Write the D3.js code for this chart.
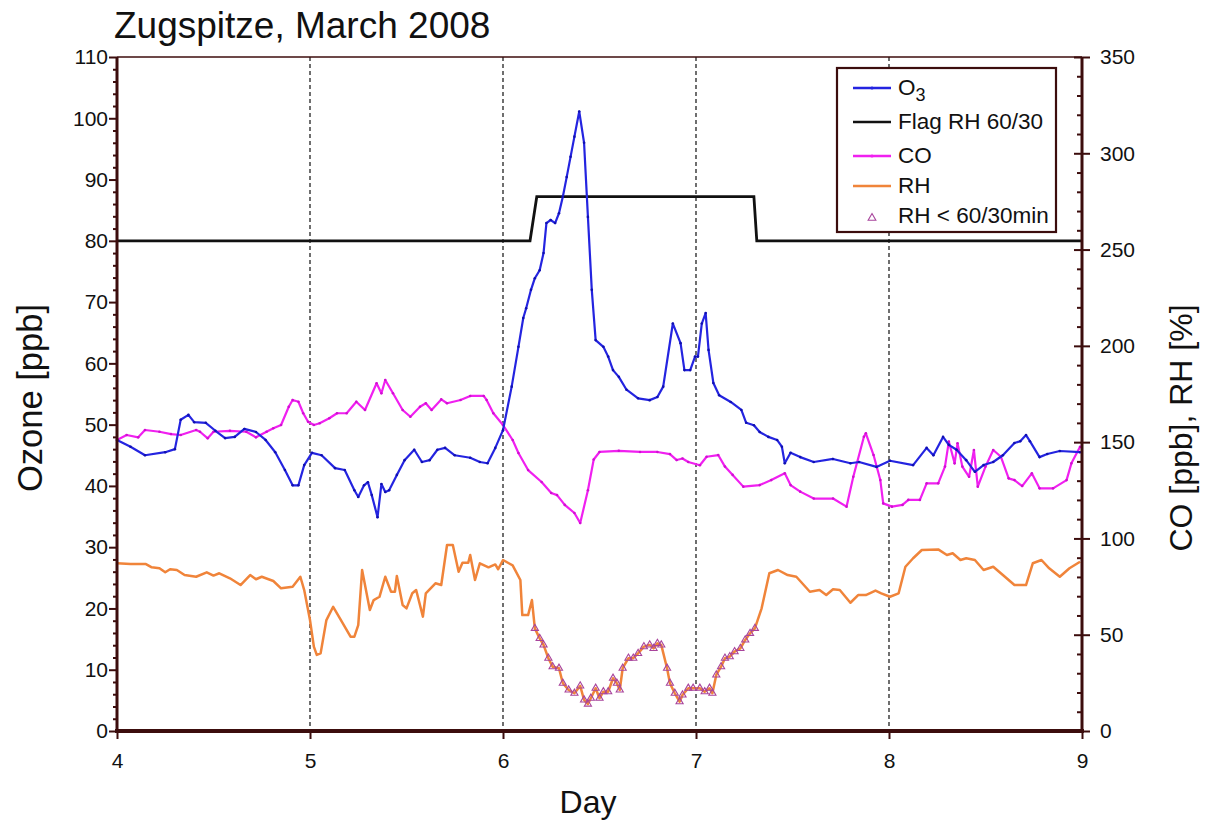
<!DOCTYPE html>
<html><head><meta charset="utf-8">
<script src="https://cdn.jsdelivr.net/npm/d3@7"></script>
<style>body{margin:0;background:#fff}svg{display:block}text{font-family:Arial,"Liberation Sans",sans-serif}</style>
</head><body><svg id="c" width="1205" height="825"></svg>
<script>
// ---- data ----
const title = "Zugspitze, March 2008";
const dayTicks = [4,5,6,7,8,9];
const gridDays = [5,6,7,8];
const ozoneTicks = [0,10,20,30,40,50,60,70,80,90,100,110];
const rightTicks = [0,50,100,150,200,250,300,350];
// Ozone [ppb] (left axis): [day, value]
const o3 = [[4.00,47.5],[4.07,46.4],[4.145,45.0],[4.25,45.5],[4.30,46.0],[4.33,50.8],[4.37,51.6],[4.40,50.4],[4.46,50.3],[4.51,49.0],[4.56,47.8],[4.61,48.0],[4.66,49.3],[4.72,48.8],[4.77,47.5],[4.82,45.5],[4.87,42.6],[4.91,40.1],[4.94,40.1],[4.97,43.4],[5.01,45.4],[5.06,45.0],[5.13,42.9],[5.18,42.6],[5.23,39.3],[5.25,38.2],[5.28,40.1],[5.30,40.6],[5.32,38.5],[5.35,34.9],[5.37,40.3],[5.39,39.0],[5.41,39.3],[5.45,41.8],[5.49,44.2],[5.54,45.9],[5.58,43.9],[5.62,44.2],[5.66,45.9],[5.70,46.2],[5.75,45.0],[5.83,44.6],[5.88,43.9],[5.92,43.7],[5.96,46.2],[6.00,49.1],[6.045,56.2],[6.08,62.7],[6.105,67.4],[6.12,69.0],[6.145,72.0],[6.165,73.9],[6.19,75.2],[6.21,78.0],[6.225,82.9],[6.247,83.4],[6.27,82.9],[6.29,84.5],[6.31,87.2],[6.33,90.4],[6.35,93.7],[6.37,97.0],[6.395,101.1],[6.42,96.0],[6.44,83.9],[6.46,72.0],[6.48,63.8],[6.52,62.7],[6.545,61.1],[6.57,58.9],[6.60,57.8],[6.64,55.7],[6.70,54.3],[6.76,54.0],[6.80,54.5],[6.83,56.2],[6.88,66.5],[6.92,63.3],[6.94,58.9],[6.97,58.9],[6.995,61.1],[7.01,61.1],[7.03,66.5],[7.05,68.2],[7.065,62.2],[7.09,56.8],[7.12,54.8],[7.18,53.7],[7.235,52.4],[7.26,50.3],[7.30,49.9],[7.33,48.8],[7.375,48.0],[7.42,47.5],[7.445,46.4],[7.46,43.7],[7.49,45.4],[7.54,44.7],[7.61,43.9],[7.71,44.4],[7.80,43.7],[7.845,43.9],[7.935,43.1],[8.005,44.1],[8.125,43.4],[8.195,46.2],[8.23,45.0],[8.28,48.0],[8.31,46.7],[8.35,45.9],[8.40,44.2],[8.445,42.3],[8.49,43.4],[8.54,43.9],[8.59,45.0],[8.65,47.0],[8.68,47.3],[8.71,48.3],[8.73,47.3],[8.78,44.7],[8.82,45.2],[8.885,45.7],[8.99,45.5]];
// Flag RH 60/30 (left-axis units)
const flag = [[4.00,80.0],[6.14,80.0],[6.175,87.2],[7.30,87.2],[7.315,80.0],[9.00,80.0]];
// CO [ppb] (right axis)
const co = [[4.00,151.1],[4.05,153.7],[4.11,152.5],[4.145,156.3],[4.22,155.4],[4.28,154.2],[4.33,153.7],[4.41,156.3],[4.43,155.4],[4.47,152.0],[4.50,155.4],[4.585,155.9],[4.67,155.4],[4.72,152.5],[4.775,155.4],[4.81,157.2],[4.85,158.9],[4.89,168.4],[4.91,171.9],[4.94,171.0],[4.965,165.0],[4.99,160.6],[5.02,158.9],[5.05,159.8],[5.10,162.4],[5.14,165.0],[5.19,165.0],[5.24,171.0],[5.285,166.7],[5.345,180.6],[5.37,175.4],[5.39,182.3],[5.43,175.4],[5.48,166.7],[5.52,163.2],[5.57,168.4],[5.60,170.2],[5.63,166.7],[5.68,172.2],[5.71,170.2],[5.78,171.9],[5.83,174.0],[5.90,174.0],[5.915,171.9],[5.95,165.0],[6.00,158.9],[6.05,151.1],[6.08,144.4],[6.13,135.5],[6.20,129.3],[6.25,123.6],[6.28,122.5],[6.32,117.4],[6.37,113.2],[6.40,108.0],[6.44,125.0],[6.47,141.0],[6.50,144.9],[6.60,145.5],[6.71,144.9],[6.80,144.9],[6.865,143.8],[6.90,140.7],[6.93,141.5],[6.96,139.7],[7.02,138.0],[7.055,142.4],[7.115,143.3],[7.15,137.3],[7.19,133.0],[7.245,126.9],[7.33,127.7],[7.39,130.3],[7.46,133.8],[7.49,127.7],[7.54,124.3],[7.61,120.7],[7.71,120.7],[7.78,116.5],[7.815,132.0],[7.87,152.8],[7.88,154.6],[7.92,143.3],[7.955,130.3],[7.97,118.2],[8.015,116.5],[8.07,117.4],[8.10,120.0],[8.16,120.0],[8.195,128.6],[8.255,128.6],[8.29,137.3],[8.31,150.3],[8.34,139.0],[8.355,149.4],[8.38,137.3],[8.415,132.0],[8.44,145.9],[8.46,126.9],[8.50,137.3],[8.54,145.9],[8.58,142.4],[8.62,131.2],[8.65,130.3],[8.69,127.2],[8.74,133.8],[8.78,126.0],[8.85,126.0],[8.92,130.3],[8.945,139.0],[8.99,147.6]];
// RH [%] (right axis)
const rh = [[4.00,87.1],[4.07,86.7],[4.15,86.7],[4.18,85.0],[4.22,84.5],[4.25,82.4],[4.275,84.0],[4.31,83.6],[4.35,81.0],[4.41,80.1],[4.465,82.4],[4.50,80.7],[4.53,81.9],[4.585,79.3],[4.64,75.8],[4.69,81.0],[4.72,78.8],[4.75,80.1],[4.81,77.9],[4.85,74.1],[4.91,74.9],[4.95,80.1],[4.97,73.2],[5.00,57.6],[5.02,43.8],[5.035,39.5],[5.055,40.3],[5.085,57.6],[5.12,64.5],[5.155,58.5],[5.21,49.0],[5.23,49.0],[5.25,55.0],[5.27,83.6],[5.31,62.8],[5.33,68.0],[5.36,69.7],[5.39,80.1],[5.42,72.3],[5.44,72.3],[5.45,80.5],[5.48,65.4],[5.50,63.7],[5.53,71.5],[5.55,73.2],[5.585,59.4],[5.60,71.5],[5.65,76.7],[5.68,75.8],[5.71,96.6],[5.74,96.6],[5.77,82.7],[5.79,87.4],[5.82,87.4],[5.83,91.4],[5.855,78.4],[5.88,87.1],[5.925,85.0],[5.96,86.5],[5.975,84.0],[6.00,88.8],[6.03,87.1],[6.05,86.0],[6.09,78.4],[6.10,60.2],[6.13,60.2],[6.15,68.0],[6.165,53.3],[6.19,48.1],[6.21,44.7],[6.235,37.8],[6.257,33.4],[6.29,32.6],[6.31,24.8],[6.34,21.3],[6.37,19.6],[6.40,23.4],[6.42,16.1],[6.44,14.0],[6.455,17.0],[6.48,22.2],[6.50,17.0],[6.52,20.4],[6.545,20.4],[6.57,27.4],[6.59,24.8],[6.605,21.3],[6.62,32.6],[6.65,37.8],[6.675,37.8],[6.70,40.3],[6.73,43.8],[6.76,44.7],[6.78,42.9],[6.80,45.5],[6.82,44.7],[6.85,32.6],[6.865,24.8],[6.89,19.6],[6.915,15.2],[6.93,18.7],[6.96,22.2],[6.985,22.2],[7.02,22.2],[7.045,20.4],[7.07,22.2],[7.085,19.6],[7.105,29.1],[7.13,33.4],[7.15,37.8],[7.175,38.6],[7.20,41.2],[7.23,42.9],[7.255,47.3],[7.28,50.7],[7.305,53.3],[7.34,63.7],[7.38,81.9],[7.425,83.6],[7.475,81.0],[7.52,80.1],[7.59,72.3],[7.64,73.2],[7.675,70.6],[7.71,73.6],[7.745,73.2],[7.80,66.6],[7.84,70.6],[7.88,70.6],[7.93,72.9],[7.96,71.5],[8.005,69.7],[8.05,71.5],[8.085,85.3],[8.125,89.7],[8.17,94.0],[8.255,94.3],[8.30,91.4],[8.33,92.3],[8.37,88.8],[8.40,89.7],[8.445,88.8],[8.49,83.6],[8.54,85.3],[8.59,81.0],[8.65,75.8],[8.71,75.8],[8.745,87.1],[8.79,88.8],[8.83,84.5],[8.885,80.1],[8.935,84.5],[8.99,87.9]];
// days where RH < 60 for 30 min (flagged period)
const rhLowStart = 6.165, rhLowEnd = 7.305;

// ---- layout ----
const svg = d3.select("#c");
const L = 117, R = 1082, T = 57, B = 731;
const axisCol = "#3c0d0d";
const x = d3.scaleLinear().domain([4,9]).range([L,R]);
const yL = d3.scaleLinear().domain([0,110]).range([B,T]);
const yR = d3.scaleLinear().domain([0,350]).range([B,T]);

// grid
svg.append("g").selectAll("line").data(gridDays).join("line")
  .attr("x1",d=>x(d)).attr("x2",d=>x(d)).attr("y1",T).attr("y2",B)
  .attr("stroke","#222").attr("stroke-width",1.3).attr("stroke-dasharray","4,3");

// top border
svg.append("line").attr("x1",L).attr("x2",R).attr("y1",T).attr("y2",T).attr("stroke",axisCol).attr("stroke-width",1.5);

// lines
const lineL = d3.line().x(d=>x(d[0])).y(d=>yL(d[1]));
const lineR = d3.line().x(d=>x(d[0])).y(d=>yR(d[1]));
svg.append("path").datum(rh).attr("d",lineR).attr("fill","none").attr("stroke","#f0843a").attr("stroke-width",2.5).attr("stroke-linejoin","round");
const low = rh.filter(d=>d[0]>=rhLowStart && d[0]<=rhLowEnd);
const tri = d3.symbol().type(d3.symbolTriangle).size(22);
svg.append("g").selectAll("path").data(low).join("path")
  .attr("transform",d=>`translate(${x(d[0])},${yR(d[1])})`).attr("d",tri)
  .attr("fill","none").attr("stroke","#a8449c").attr("stroke-width",1.1);
svg.append("path").datum(co).attr("d",lineR).attr("fill","none").attr("stroke","#f020f0").attr("stroke-width",2.2).attr("stroke-linejoin","round");
svg.append("g").selectAll("circle").data(co).join("circle").attr("cx",d=>x(d[0])).attr("cy",d=>yR(d[1])).attr("r",1.3).attr("fill","#d010d0");
svg.append("path").datum(flag).attr("d",lineL).attr("fill","none").attr("stroke","#111").attr("stroke-width",2.8);
svg.append("path").datum(o3).attr("d",lineL).attr("fill","none").attr("stroke","#2424e0").attr("stroke-width",2.2).attr("stroke-linejoin","round");
svg.append("g").selectAll("circle").data(o3).join("circle").attr("cx",d=>x(d[0])).attr("cy",d=>yL(d[1])).attr("r",1.3).attr("fill","#1010b0");

// axes
const fs = "21px";
const ax = svg.append("g").attr("transform",`translate(${L},0)`).call(
  d3.axisLeft(yL).tickValues(d3.range(0,111,2)).tickSize(0).tickFormat(""));
ax.select(".domain").remove();
ax.selectAll(".tick line").attr("x2",d=>d%10===0?-8:-4).attr("stroke",axisCol).attr("stroke-width",2);
const axl = svg.append("g").attr("transform",`translate(${L},0)`).call(d3.axisLeft(yL).tickValues(ozoneTicks).tickSize(0).tickPadding(9));
axl.attr("font-size",fs).attr("font-family","Arial");
axl.select(".domain").remove();
axl.selectAll("text").attr("fill","#111");
svg.append("line").attr("x1",L).attr("x2",L).attr("y1",T).attr("y2",B+2).attr("stroke",axisCol).attr("stroke-width",3);

const ar = svg.append("g").attr("transform",`translate(${R},0)`).call(
  d3.axisRight(yR).tickValues(d3.range(0,351,10)).tickSize(0).tickFormat(""));
ar.select(".domain").remove();
ar.selectAll(".tick line").attr("x1",d=>d%50===0?-8:-5).attr("x2",d=>d%50===0?8:0).attr("stroke",axisCol).attr("stroke-width",2);
const arl = svg.append("g").attr("transform",`translate(${R},0)`).call(d3.axisRight(yR).tickValues(rightTicks).tickSize(0).tickPadding(18));
arl.attr("font-size",fs).attr("font-family","Arial");
arl.select(".domain").remove();
arl.selectAll("text").attr("fill","#111");
svg.append("line").attr("x1",R).attr("x2",R).attr("y1",T).attr("y2",B+2).attr("stroke",axisCol).attr("stroke-width",3);

const ab = svg.append("g").attr("transform",`translate(0,${B})`).call(d3.axisBottom(x).tickValues(dayTicks).tickSize(8).tickPadding(14).tickFormat(d3.format("d")));
ab.attr("font-size",fs).attr("font-family","Arial");
ab.select(".domain").remove();
ab.selectAll(".tick line").attr("stroke",axisCol).attr("stroke-width",2);
ab.selectAll("text").attr("fill","#111");
svg.append("line").attr("x1",L-2).attr("x2",R+2).attr("y1",B).attr("y2",B).attr("stroke",axisCol).attr("stroke-width",4);

// titles
svg.append("text").attr("x",114).attr("y",38).attr("font-size","37px").attr("fill","#111").text(title);
svg.append("text").attr("x",588).attr("y",813).attr("text-anchor","middle").attr("font-size","32px").attr("fill","#111").text("Day");
svg.append("text").attr("transform","translate(42,398) rotate(-90)").attr("text-anchor","middle").attr("font-size","34.5px").attr("fill","#111").text("Ozone [ppb]");
svg.append("text").attr("transform","translate(1192,428) rotate(-90)").attr("text-anchor","middle").attr("font-size","32px").attr("fill","#111").text("CO [ppb], RH [%]");

// legend
const lg = svg.append("g");
lg.append("rect").attr("x",837).attr("y",68).attr("width",219).attr("height",164).attr("fill","#fff").attr("stroke",axisCol).attr("stroke-width",2.2);
const items = [
  {k:"O3", y:88, col:"#2424e0", dot:true},
  {k:"Flag RH 60/30", y:122, col:"#111"},
  {k:"CO", y:156, col:"#f020f0", dot:true},
  {k:"RH", y:186, col:"#f0843a"},
  {k:"RH  < 60/30min", y:216, tri:true}
];
items.forEach(it=>{
  if(it.tri){
    lg.append("path").attr("transform",`translate(872,${it.y+2})`).attr("d",d3.symbol().type(d3.symbolTriangle).size(26)).attr("fill","none").attr("stroke","#a8449c").attr("stroke-width",1.1);
  } else {
    lg.append("line").attr("x1",853).attr("x2",891).attr("y1",it.y).attr("y2",it.y).attr("stroke",it.col).attr("stroke-width",2.4);
    if(it.dot) lg.append("circle").attr("cx",872).attr("cy",it.y).attr("r",1.6).attr("fill",it.col);
  }
  const t = lg.append("text").attr("x",898).attr("y",it.y+7).attr("font-size","22.5px").attr("fill","#111");
  if(it.k==="O3"){ t.text("O"); t.append("tspan").attr("dy",6).attr("font-size","18px").text("3"); }
  else t.text(it.k);
});
</script></body></html>
